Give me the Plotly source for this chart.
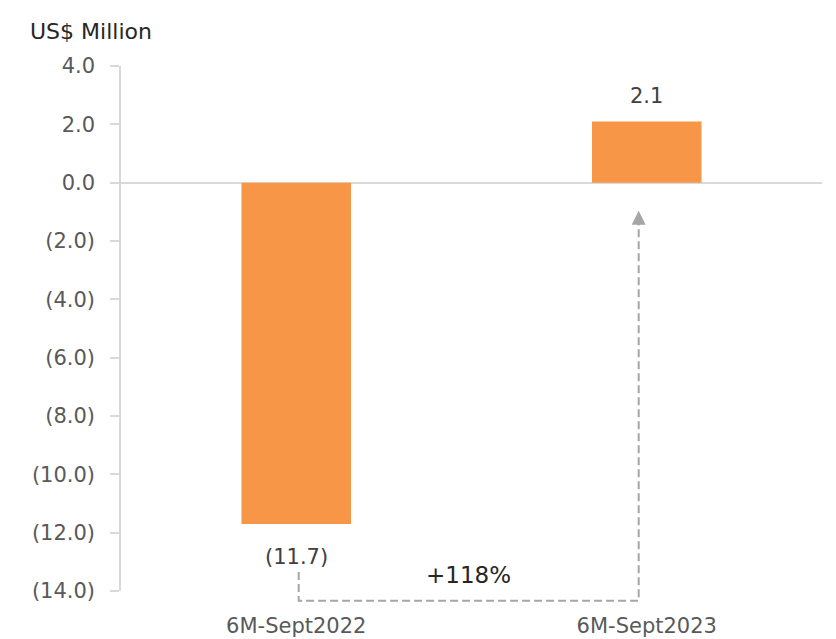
import plotly.graph_objects as go

categories = ["6M-Sept2022", "6M-Sept2023"]
values = [-11.7, 2.1]
tick_values = [4, 2, 0, -2, -4, -6, -8, -10, -12, -14]
tick_labels = ["4.0", "2.0", "0.0", "(2.0)", "(4.0)", "(6.0)", "(8.0)", "(10.0)", "(12.0)", "(14.0)"]
y_title = "US$ Million"

def fmt(v):
    return f"({abs(v):.1f})" if v < 0 else f"{v:.1f}"

change = (values[1] - values[0]) / abs(values[0]) * 100
change_label = f"+{change:.0f}%"

YMIN, YMAX = -14, 4
FONT = "DejaVu Sans"
GRAY = "#A6A6A6"

x_idx = list(range(len(categories)))

fig = go.Figure()
fig.add_trace(go.Bar(
    x=x_idx, y=values, width=0.3125,
    marker=dict(color="#F79646", line=dict(width=0)),
    hoverinfo="skip",
))

# value labels
for xi, v in zip(x_idx, values):
    fig.add_annotation(x=xi, y=v, xref="x", yref="y", text=fmt(v), showarrow=False,
                       yanchor="middle", yshift=25 if v >= 0 else -33,
                       font=dict(family=FONT, size=21, color="#404040"))

def to_paper(v):
    return (v - YMIN) / (YMAX - YMIN)

# dashed connector from first bar label to second bar
x0 = x_idx[0] + 0.007
x1 = x_idx[1] - 0.023
y_start = values[0] - 1.65
y_bottom = YMIN - 0.33
y_tip = -0.96
path = (f"M {x0},{to_paper(y_start)} L {x0},{to_paper(y_bottom)} "
        f"L {x1},{to_paper(y_bottom)} L {x1},{to_paper(y_tip) - 0.02}")
fig.add_shape(type="path", path=path, xref="x", yref="paper",
              line=dict(color=GRAY, width=2, dash="8px,4px"), layer="above")
fig.add_annotation(x=x1, y=y_tip, xref="x", yref="y", text="",
                   showarrow=True, arrowhead=2, arrowsize=1.4, arrowwidth=2,
                   arrowcolor=GRAY, ax=0, ay=16)
fig.add_annotation(x=0.49, y=-13.45, xref="x", yref="y", text=change_label,
                   showarrow=False, font=dict(family=FONT, size=23, color="#262626"))

W, H = 828, 631
fig.update_layout(
    width=W, height=H,
    margin=dict(l=113, r=14, t=58, b=48),
    paper_bgcolor="white", plot_bgcolor="white",
    showlegend=False,
    title=dict(text=y_title, x=22 / W, y=1 - 23 / H, xanchor="left", yanchor="middle",
               xref="container", yref="container",
               font=dict(family=FONT, size=22, color="#262626")),
    font=dict(family=FONT),
)
fig.update_xaxes(
    range=[-0.5, 1.5], tickvals=x_idx, ticktext=categories,
    showline=False, showgrid=False, zeroline=False, ticks="",
    tickfont=dict(family=FONT, size=21, color="#595959"),
    ticklabelstandoff=20, automargin=False,
)
fig.update_yaxes(
    range=[YMIN, YMAX], tickvals=tick_values, ticktext=tick_labels,
    showgrid=False, showline=True, linecolor="#D9D9D9", linewidth=1.5,
    ticks="outside", ticklen=9, tickcolor="#D9D9D9", tickwidth=1.5,
    zeroline=True, zerolinecolor="#D9D9D9", zerolinewidth=1.5,
    tickfont=dict(family=FONT, size=21, color="#595959"),
    ticklabelstandoff=11, automargin=False,
)

fig.write_html("out.html")
